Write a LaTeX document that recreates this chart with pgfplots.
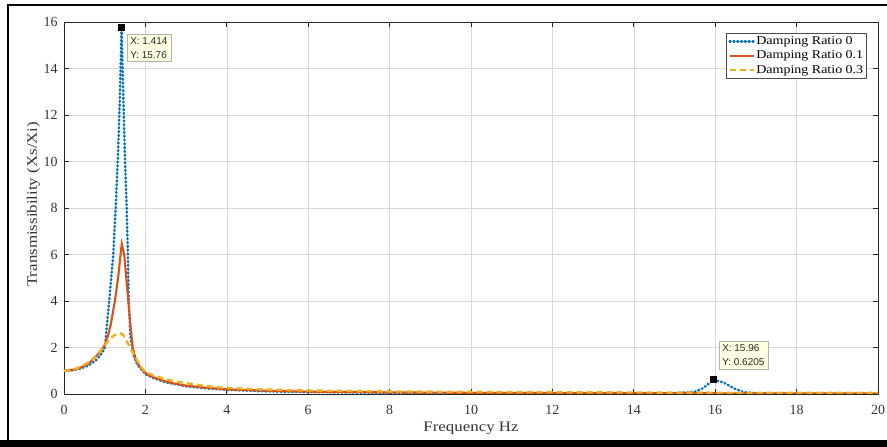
\documentclass[border=0pt]{standalone}
\usepackage{fontspec}
\setmainfont{Liberation Serif}
\newfontfamily\labfont[FakeStretch=1.17]{Liberation Serif}
\newfontfamily\tipfont{Liberation Sans}
\usepackage{pgfplots}
\pgfplotsset{compat=1.18}
\definecolor{mBlue}{rgb}{0,0.447,0.741}
\definecolor{mOrange}{rgb}{0.85,0.325,0.098}
\definecolor{mYellow}{rgb}{0.929,0.694,0.125}
\definecolor{tipbg}{RGB}{255,255,225}
\begin{document}
\begin{tikzpicture}[x=1bp,y=1bp]
\path[use as bounding box] (-64,-53) rectangle (823,394);
\begin{axis}[
  at={(0,0)}, anchor=south west,
  scale only axis, width=814bp, height=372bp,
  xmin=0, xmax=20, ymin=0, ymax=16,
  xtick={0,2,...,20}, ytick={0,2,...,16},
  grid=major,
  major grid style={color=black!15, line width=0.6pt},
  axis line style={color=black!85, line width=0.7pt},
  tick style={color=black!85, line width=0.7pt},
  tick align=inside, major tick length=5bp,
  /pgf/number format/assume math mode=true,
  tick label style={font=\fontsize{14}{14}\selectfont, text=black!80},
  xticklabel style={anchor=base, yshift=-21bp},
  yticklabel style={xshift=-3bp},
  xlabel={Frequency Hz},
  ylabel={Transmissibility (Xs/Xi)},
  label style={font=\fontsize{14.5}{15}\labfont, text=black!80},
  xlabel style={at={(axis description cs:0.5,0)}, anchor=base, yshift=-38bp},
  ylabel style={at={(axis description cs:-0.0332,0.51)}, anchor=base, rotate=0},
  legend style={at={(axis description cs:1,1)}, anchor=north east,
    xshift=-11bp, yshift=-11bp, draw=black!70, line width=0.6pt, fill=white,
    font=\fontsize{12}{12}\labfont, row sep=1.8bp, inner sep=2bp,
    nodes={inner sep=1.5bp}},
  legend cell align=left,
  legend image code/.code={\draw[#1] (0bp,0bp) -- (24bp,0bp);},
]
\addplot[color=mBlue, line width=2.4bp, dash pattern=on 1bp off 2.8bp, line cap=round] coordinates {
(0,1) (0.2,1.02) (0.4,1.09) (0.6,1.22) (0.8,1.47) (0.9,1.68) (1.0,1.95) (1.11,4) (1.21,6) (1.27,8) (1.32,10) (1.36,12) (1.39,14) (1.414,15.76)
(1.44,14) (1.47,12) (1.50,10) (1.54,8) (1.57,6) (1.59,4) (1.63,2.5) (1.7,1.7) (1.8,1.25) (2.0,0.85) (2.2,0.68) (2.5,0.5) (3,0.33) (3.5,0.24) (4,0.18) (5,0.11) (6,0.08) (8,0.05) (10,0.035) (12,0.025) (14,0.02) (15,0.03)
(15.5,0.1) (15.7,0.25) (15.85,0.45) (15.96,0.6205) (16.2,0.5) (16.45,0.25) (16.7,0.08) (17,0.03) (18,0.01) (20,0.005)
};
\addlegendentry{Damping Ratio 0}
\addplot[color=mOrange, line width=2.1bp] coordinates {
(0,1) (0.2,1.03) (0.4,1.13) (0.6,1.3) (0.75,1.55) (0.9,1.82) (1.0,2.1) (1.08,2.5) (1.15,3.0) (1.25,4.0) (1.33,5.0) (1.39,6.0) (1.42,6.45)
(1.48,6.0) (1.53,5.0) (1.58,4.0) (1.63,3.0) (1.69,2.0) (1.76,1.5) (1.85,1.2) (2.0,0.9) (2.2,0.72) (2.44,0.57) (2.7,0.45) (3.0,0.36) (3.5,0.27) (4,0.2) (5,0.14) (6,0.1) (8,0.07) (10,0.05) (12,0.04) (14,0.035) (16,0.03) (18,0.025) (20,0.02)
};
\addlegendentry{Damping Ratio 0.1}
\addplot[color=mYellow, line width=2.4bp, dash pattern=on 6bp off 4bp] coordinates {
(0,1) (0.2,1.04) (0.4,1.17) (0.6,1.35) (0.72,1.53) (0.85,1.75) (0.97,2.03) (1.1,2.3) (1.2,2.48) (1.3,2.58) (1.38,2.61) (1.45,2.55) (1.53,2.3) (1.62,2.03) (1.7,1.75) (1.79,1.46) (1.9,1.15) (1.99,0.96) (2.2,0.8) (2.44,0.67) (2.7,0.55) (3.02,0.46) (3.4,0.36) (3.76,0.29) (4.5,0.22) (5,0.19) (6,0.15) (7,0.13) (8,0.11) (10,0.09) (12,0.075) (14,0.065) (16,0.055) (18,0.05) (20,0.045)
};
\addlegendentry{Damping Ratio 0.3}
\addplot[only marks, mark=square*, mark size=3bp, color=black, forget plot] coordinates {(1.414,15.76) (15.96,0.6205)};
\node[draw=black!30, fill=tipbg, font=\tipfont\fontsize{10}{14}\selectfont, align=left, inner sep=3.5bp, anchor=north west, text=black!85]
  at ([shift={(5bp,-6bp)}]axis cs:1.414,15.76) {X: 1.414\\Y: 15.76};
\node[draw=black!30, fill=tipbg, font=\tipfont\fontsize{10}{14}\selectfont, align=left, inner sep=3.5bp, anchor=south west, text=black!85]
  at ([shift={(5bp,10bp)}]axis cs:15.96,0.6205) {X: 15.96\\Y: 0.6205};
\end{axis}
\draw[line width=2.5bp] (-56,-53) -- (-56,389) -- (823,389);
\fill[black] (-64,-53) rectangle (823,-46);
\end{tikzpicture}
\end{document}
